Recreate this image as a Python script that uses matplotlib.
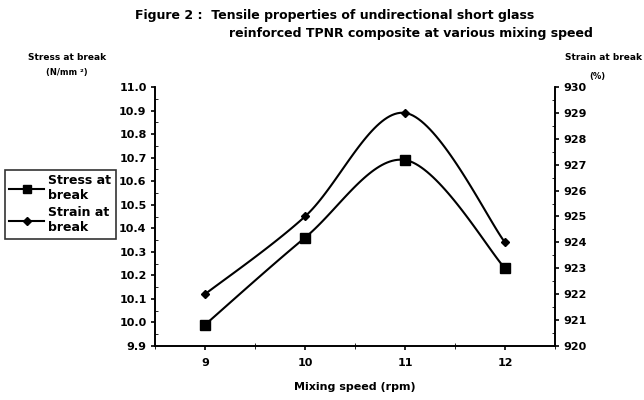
import numpy as np
import matplotlib
matplotlib.use("Agg")
import matplotlib.pyplot as plt
from matplotlib.ticker import MultipleLocator

plt.rcParams['font.family'] = ['DejaVu Sans']
plt.rcParams['font.weight'] = 'bold'

speed = [9, 10, 11, 12]
stress = [9.99, 10.36, 10.69, 10.23]
strain = [922.0, 925.0, 929.0, 924.0]


def smooth(xs, ys, n=40):
    # bezier curve like the spreadsheet "smoothed line"
    xs = np.asarray(xs, float)
    ys = np.asarray(ys, float)
    px = np.concatenate([[xs[0]], xs, [xs[-1]]])
    py = np.concatenate([[ys[0]], ys, [ys[-1]]])
    outx, outy = [], []
    t = np.linspace(0, 1, n)
    for i in range(1, len(xs)):
        p0 = np.array([px[i], py[i]])
        p3 = np.array([px[i + 1], py[i + 1]])
        c1 = p0 + (np.array([px[i + 1], py[i + 1]]) - np.array([px[i - 1], py[i - 1]])) / 6
        c2 = p3 - (np.array([px[i + 2], py[i + 2]]) - np.array([px[i], py[i]])) / 6
        for tt in t:
            b = ((1 - tt) ** 3 * p0 + 3 * (1 - tt) ** 2 * tt * c1
                 + 3 * (1 - tt) * tt ** 2 * c2 + tt ** 3 * p3)
            outx.append(b[0])
            outy.append(b[1])
    return outx, outy


fig = plt.figure(figsize=(6.44, 4.0), dpi=100)
ax = fig.add_axes([155 / 644, 1 - 346 / 400, 400 / 644, 259 / 400])
ax2 = ax.twinx()

sx, sy = smooth(speed, stress)
ax.plot(sx, sy, color='black', lw=1.5)
ax.plot(speed, stress, 's', color='black', ms=6.5, ls='none')
tx, ty = smooth(speed, strain)
ax2.plot(tx, ty, color='black', lw=1.5)
ax2.plot(speed, strain, 'D', color='black', ms=4.5, ls='none')

ax.set_xlim(8.5, 12.5)
ax.set_ylim(9.9, 11.0)
ax2.set_ylim(920, 930)
ax.set_xticks(speed)
ax.set_xticklabels([str(s) for s in speed])
ax.set_xticks([8.5, 9.5, 10.5, 11.5, 12.5], minor=True)
ax.set_yticks(np.round(np.arange(9.9, 11.01, 0.1), 1))
ax.set_yticklabels(['%.1f' % v for v in np.arange(9.9, 11.01, 0.1)])
ax.yaxis.set_minor_locator(MultipleLocator(0.05))
ax2.set_yticks(np.arange(920, 931, 1))
ax2.yaxis.set_minor_locator(MultipleLocator(0.5))

for a in (ax, ax2):
    a.spines['top'].set_visible(False)
    for s in a.spines.values():
        s.set_linewidth(1.2)
    a.tick_params(labelsize=8, width=1.2)
ax.tick_params(axis='y', which='major', length=3, direction='out', pad=3)
ax.tick_params(axis='y', which='minor', length=2.5, direction='in')
ax2.tick_params(axis='y', which='major', length=3, direction='out', pad=3)
ax2.tick_params(axis='y', which='minor', length=2.5, direction='in')
ax.tick_params(axis='x', which='major', length=3, direction='out', pad=6)
ax.tick_params(axis='x', which='minor', length=4, direction='inout')

ax.set_xlabel('Mixing speed (rpm)', fontsize=8, fontweight='bold', labelpad=10)

fig.text(135 / 644, 1 - 15 / 400, 'Figure 2 :  Tensile properties of undirectional short glass',
         fontsize=9, fontweight='bold', ha='left', va='center')
fig.text(593 / 644, 1 - 33 / 400, 'reinforced TPNR composite at various mixing speed',
         fontsize=9, fontweight='bold', ha='right', va='center')
fig.text(67 / 644, 1 - 57 / 400, 'Stress at break', fontsize=6.5, fontweight='bold',
         ha='center', va='center')
fig.text(67 / 644, 1 - 73 / 400, '(N/mm ²)', fontsize=6, fontweight='bold',
         ha='center', va='center')
fig.text(642 / 644, 1 - 57 / 400, 'Strain at break', fontsize=6.5, fontweight='bold',
         ha='right', va='center')
fig.text(597 / 644, 1 - 77 / 400, '(%)', fontsize=6, fontweight='bold',
         ha='center', va='center')

h1 = plt.Line2D([], [], color='black', lw=1.5, marker='s', ms=5.5)
h2 = plt.Line2D([], [], color='black', lw=1.5, marker='D', ms=4)
leg = fig.legend([h1, h2], ['Stress at\nbreak', 'Strain at\nbreak'],
                 loc='upper left', bbox_to_anchor=(5 / 644, 1 - 170 / 400),
                 fontsize=9, frameon=True, fancybox=False, edgecolor='black',
                 handlelength=2.8, handletextpad=0.3, borderpad=0.35,
                 labelspacing=0.3, borderaxespad=0)
leg.get_frame().set_linewidth(1.2)
for t in leg.get_texts():
    t.set_fontweight('bold')

fig.savefig('out.png', dpi=100)
